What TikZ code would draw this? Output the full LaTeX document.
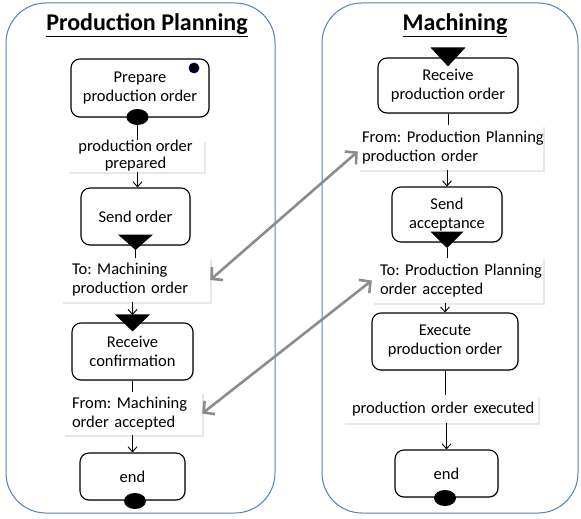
\documentclass[tikz,border=0pt]{standalone}
\usepackage{fontspec}
\setmainfont{Carlito}
\usetikzlibrary{arrows.meta,shapes.geometric,shadows,calc}
\definecolor{laneblue}{RGB}{79,129,189}
\definecolor{arrgray}{RGB}{140,140,140}
\frenchspacing
\begin{document}
\begin{tikzpicture}[x=1pt,y=-1pt,
  lane/.style={draw=laneblue, line width=1pt, rounded corners=40pt, inner sep=0pt},
  act/.style={draw=black, line width=1.1pt, rounded corners=9pt, fill=white, align=center, inner sep=0pt,
    font=\fontsize{16.5}{19}\selectfont,
    drop shadow={opacity=0.3, shadow xshift=1.2pt, shadow yshift=-1.2pt}},
  lbl/.style={fill=white, inner ysep=0pt, align=left, font=\fontsize{16.5}{19}\selectfont,
    drop shadow={opacity=0.18, shadow xshift=2pt, shadow yshift=-2pt}},
  flow/.style={draw=black, line width=0.9pt},
  flowarr/.style={flow, -{Straight Barb[length=5pt,width=9pt]}},
  msg/.style={draw=arrgray, line width=2.6pt,
    {Straight Barb[length=8pt,width=17pt]}-{Straight Barb[length=8pt,width=17pt]}},
  blob/.style={ellipse, fill=black, minimum width=22pt, minimum height=16pt, inner sep=0pt},
  title/.style={font=\fontsize{24}{28}\selectfont\bfseries}
]
\useasboundingbox (0,0) rectangle (581,519);

% lanes
\node[lane, minimum width=269pt, minimum height=510pt] (laneL) at (140.5,258) {};
\node[lane, minimum width=256pt, minimum height=510pt] (laneR) at (450,258) {};
\node[title] (tL) at (147,25) {\underline{Production Planning}};
\node[title] (tR) at (455,25) {\underline{Machining}};

\coordinate (tri1) at (135.5,250);
\coordinate (tri2top) at (132.5,315);
\coordinate (tri4) at (447,248);

% left activities
\node[act, minimum width=138pt, minimum height=58pt] (prep) at (140,88) {Prepare\\production order};
\node[act, minimum width=109pt, minimum height=57pt] (send) at (135.5,216.5) {Send order};
\node[act, minimum width=121pt, minimum height=57pt] (recc) at (132.5,351.5) {Receive\\confirmation};
\node[act, minimum width=105pt, minimum height=47pt] (endL) at (132.5,476.5) {end};

% right activities
\node[act, minimum width=140pt, minimum height=55pt] (recp) at (448,85.5) {Receive\\production order};
\node[act, minimum width=110pt, minimum height=55pt] (senda) at (447,214.5) {Send\\acceptance};
\node[act, minimum width=146pt, minimum height=57pt] (exec) at (445,341.5) {Execute\\production order};
\node[act, minimum width=103pt, minimum height=47pt] (endR) at (446.5,473.5) {end};

% labels left
\node[lbl, align=center, font=\fontsize{16.5}{17}\selectfont, minimum width=137pt, minimum height=32pt] (l1) at (135.5,156) {production order\\prepared};
\node[lbl, inner xsep=11pt, text width=127pt, minimum height=44pt] (l2) at (135.5,280) {\mbox{To: Machining}\\\mbox{production order}};
\node[lbl, inner xsep=9pt, text width=121pt, minimum height=43pt] (l3) at (132.5,413.5) {\mbox{From: Machining}\\\mbox{order accepted}};

% labels right
\node[lbl, inner xsep=4pt, text width=177pt, minimum height=45pt] (r1) at (450.5,147.5) {\mbox{From: Production Planning}\\\mbox{production order}};
\node[lbl, inner xsep=8pt, text width=155pt, minimum height=45pt] (r2) at (457.5,280.5) {\mbox{To: Production Planning}\\\mbox{order accepted}};
\node[lbl, inner xsep=9pt, text width=177pt, minimum height=28pt] (r3) at (440.5,409) {\mbox{production order executed}};

% pins and signals
\node[blob] (e1) at (137.5,117) {};
\node[blob] (e2) at (135,501) {};
\node[blob] (e3) at (445,498) {};
\node[circle, fill=black, draw=blue!60!black, line width=0.8pt, minimum size=10pt, inner sep=0pt] (d0) at (194,68) {};

\fill ($(send.south)+(-17.5,-11)$) -- ($(send.south)+(17.5,-11)$) -- (tri1) -- cycle;
\fill ($(recc.north)+(-17.5,-8)$) -- ($(recc.north)+(17.5,-8)$) -- ($(recc.north)+(0,9)$) -- cycle;
\fill ($(recp.north)+(-17.5,-10)$) -- ($(recp.north)+(17.5,-10)$) -- ($(recp.north)+(0,9)$) -- cycle;
\fill ($(senda.south)+(-16.5,-11)$) -- ($(senda.south)+(16.5,-11)$) -- (tri4) -- cycle;

% left flow
\draw[flow] (e1.south) -- (e1.south |- l1.north);
\draw[flowarr] (e1 |- l1.south) -- (e1 |- send.north);
\draw[flow] (tri1) -- (tri1 |- l2.north);
\draw[flowarr] (tri2top |- l2.south) -- (tri2top);
\draw[flow] (recc.south) -- (recc.south |- l3.north);
\draw[flowarr] (endL.north |- l3.south) -- (endL.north);

% right flow
\draw[flow] (recp.south) -- (recp.south |- r1.north);
\draw[flowarr] (senda.north |- r1.south) -- (senda.north);
\draw[flow] (tri4) -- (tri4 |- r2.north);
\draw[flowarr] (exec.north |- r2.south) -- (exec.north);
\draw[flow] (exec.south) -- (exec.south |- r3.north);
\draw[flowarr] (endR.north |- r3.south) -- (endR.north);

% messages
\draw[msg] (l2.east) -- ([yshift=-4pt]r1.west);
\draw[msg] (l3.east) -- (r2.west);
\end{tikzpicture}
\end{document}
